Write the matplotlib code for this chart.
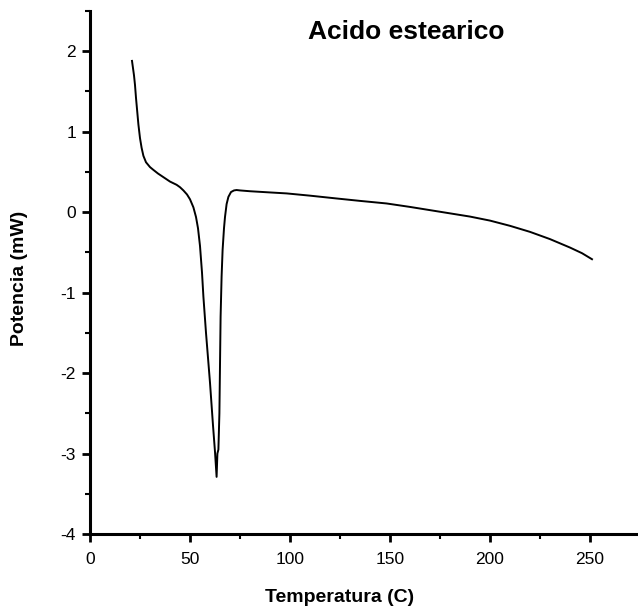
import matplotlib
matplotlib.use("Agg")
import matplotlib.pyplot as plt
from matplotlib.ticker import MultipleLocator

plt.rcParams['font.family'] = ['Liberation Sans', 'DejaVu Sans']
plt.rcParams['axes.unicode_minus'] = False

# DSC curve
temperatura = [21.0, 22.0, 22.5, 23.0, 24.2, 25.0, 25.8, 26.7, 28.0, 30.0, 31.7,
               34.0, 37.0, 40.0, 43.3, 45.0, 46.7, 48.5, 50.0, 51.7, 53.0, 54.0,
               55.0, 56.0, 56.7, 58.0, 60.0, 61.5, 62.5, 63.3, 63.7, 64.2, 64.7,
               65.3, 65.8, 66.3, 67.0, 67.5, 68.3, 69.2, 70.5, 72.0, 73.3, 75.0,
               80.0, 90.0, 98.3, 110.0, 123.3, 135.0, 148.3, 160.0, 170.0, 180.0,
               190.0, 200.0, 210.0, 220.0, 230.0, 240.0, 246.0, 251.0]
potencia = [1.88, 1.70, 1.58, 1.42, 1.09, 0.92, 0.80, 0.70, 0.62, 0.56, 0.525,
            0.48, 0.43, 0.38, 0.34, 0.31, 0.27, 0.22, 0.16, 0.06, -0.06, -0.20,
            -0.42, -0.75, -1.05, -1.50, -2.12, -2.65, -2.98, -3.29, -3.00, -2.95,
            -2.50, -1.30, -0.80, -0.47, -0.20, -0.06, 0.10, 0.19, 0.25, 0.27,
            0.275, 0.27, 0.26, 0.245, 0.233, 0.205, 0.17, 0.14, 0.108, 0.065,
            0.025, -0.015, -0.055, -0.105, -0.17, -0.245, -0.335, -0.44, -0.51,
            -0.585]

titulo = "Acido estearico"
xlabel = "Temperatura (C)"
ylabel = "Potencia (mW)"

fig = plt.figure(figsize=(6.38, 6.11), dpi=100)
ax = fig.add_axes([90 / 638, 77 / 611, 548 / 638, 523 / 611])

ax.plot(temperatura, potencia, color="k", linewidth=1.4)

ax.set_xlim(0, 274)
ax.set_ylim(-4, 2.5)
ax.xaxis.set_major_locator(MultipleLocator(50))
ax.xaxis.set_minor_locator(MultipleLocator(25))
ax.yaxis.set_major_locator(MultipleLocator(1))
ax.yaxis.set_minor_locator(MultipleLocator(0.5))

for side in ("top", "right"):
    ax.spines[side].set_visible(False)
for side in ("left", "bottom"):
    ax.spines[side].set_linewidth(2.2)

ax.tick_params(which="major", direction="out", length=6, width=2, labelsize=12.5, pad=7)
ax.tick_params(which="minor", direction="out", length=3.5, width=1.5)
ax.tick_params(axis="y", pad=4)

ax.text(158, 2.24, titulo, fontsize=19, fontweight="bold", ha="center", va="center")
fig.text(340 / 638, 1 - 598 / 611, xlabel, fontsize=14, fontweight="bold",
         ha="center", va="center")
fig.text(20 / 638, 1 - 278 / 611, ylabel, fontsize=14, fontweight="bold",
         ha="center", va="center", rotation=90)

fig.savefig("out.png", dpi=100)
